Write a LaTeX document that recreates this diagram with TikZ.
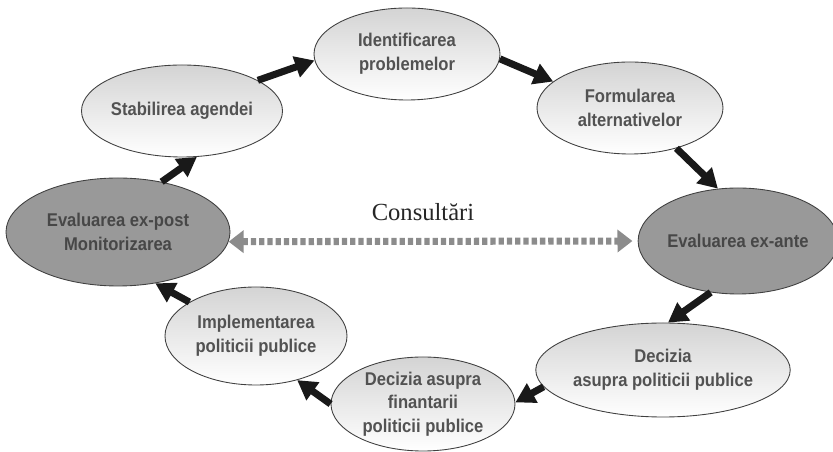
\documentclass[tikz,border=0pt]{standalone}
\usepackage{fontspec}
\setmainfont{Liberation Serif}
\setsansfont{Liberation Sans}[FakeStretch=0.9]
\usetikzlibrary{arrows.meta, shapes.geometric}

\begin{document}
\begin{tikzpicture}[
    >={Triangle[width=12pt,length=11pt]},
    stage/.style={ellipse, draw=black!75, line width=0.5pt, inner sep=0pt,
                  align=center, font=\sffamily\bfseries\fontsize{10.5}{13.4}\selectfont},
    lite/.style={stage, top color=black!17, bottom color=white, text=black!68,
                 minimum width=3.72cm, minimum height=1.84cm},
    dark/.style={stage, fill=black!40, text=black!72},
    flow/.style={->, line width=4pt, black!90},
    consult/.style={<->, >={Triangle[width=12.5pt,length=8.5pt]}, line width=4pt,
                    black!45, dash pattern=on 3pt off 1.7pt},
]
\useasboundingbox (0,0) rectangle (16.66,9.04);
% the cycle of stages
\node[lite] (stab)   at (3.64,6.82) {Stabilirea agendei};
\node[lite] (ident)  at (8.14,7.96) {Identificarea\\problemelor};
\node[lite] (form)   at (12.60,6.88) {Formularea\\alternativelor};
\node[dark, minimum width=3.80cm, minimum height=2.12cm] (exante) at (14.76,4.22) {Evaluarea ex-ante};
\node[lite, minimum height=1.88cm] (decpol) at (13.26,1.64) {Decizia\\asupra politicii publice};
\node[lite, minimum width=3.68cm, minimum height=1.88cm] (decfin) at (8.46,0.96)
     {Decizia asupra\\finantarii\\politicii publice};
\node[lite, minimum width=3.64cm, minimum height=1.96cm] (impl) at (5.12,2.32)
     {Implementarea\\politicii publice};
\node[dark, minimum width=4.48cm, minimum height=2.16cm] (expost) at (2.36,4.40)
     {Evaluarea ex-post\\Monitorizarea};
% arrows round the cycle
\draw[flow] (stab.22)    -- (ident.184);
\draw[flow] (ident.357)  -- (form.161);
\draw[flow] (form.319)   -- (exante.111);
\draw[flow] (exante.242) -- (decpol.84);
\draw[flow] (decpol.188) -- (decfin.1);
\draw[flow] (decfin.180) -- (impl.313);
\draw[flow] (impl.153)   -- (expost.306);
\draw[flow] (expost.49)  -- (stab.288);
% consultations across the middle
\node[font=\fontsize{14}{16}\selectfont, text=black!85] (cons) at (8.46,4.80) {Consultări};
\draw[consult, shorten >=3pt] (expost.355) -- (exante.180);
\end{tikzpicture}
\end{document}
